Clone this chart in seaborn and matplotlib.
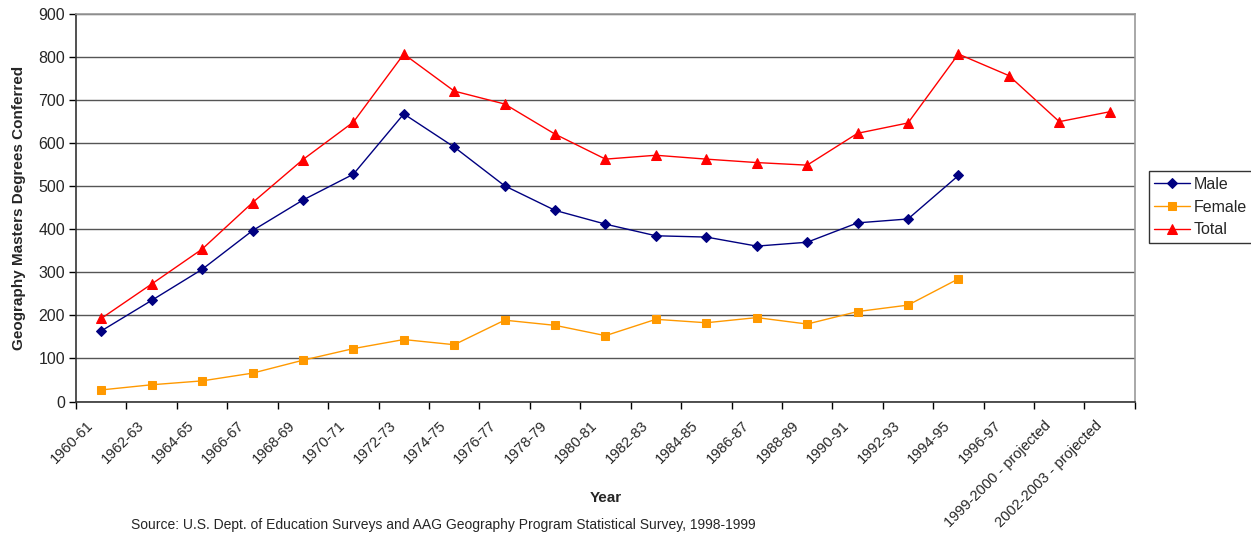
import numpy as np
import pandas as pd
import matplotlib
matplotlib.use("Agg")
import matplotlib.pyplot as plt
import seaborn as sns

years = ["1960-61", "1962-63", "1964-65", "1966-67", "1968-69", "1970-71",
         "1972-73", "1974-75", "1976-77", "1978-79", "1980-81", "1982-83",
         "1984-85", "1986-87", "1988-89", "1990-91", "1992-93", "1994-95",
         "1996-97", "1999-2000 - projected", "2002-2003 - projected"]
male = [164, 235, 307, 397, 468, 528, 668, 591, 501, 444, 412, 385,
        382, 361, 370, 415, 424, 525, np.nan, np.nan, np.nan]
female = [27, 39, 48, 66, 96, 123, 144, 132, 189, 177, 153, 191,
          183, 195, 180, 209, 224, 285, np.nan, np.nan, np.nan]
total = [193, 273, 354, 462, 562, 649, 807, 721, 691, 621, 563, 572,
         563, 555, 549, 623, 647, 807, 757, 650, 673]

sns.set_style("white")
plt.rcParams['font.family'] = ['Liberation Sans', 'DejaVu Sans']

df = pd.DataFrame({"pos": np.arange(len(years)), "Male": male,
                   "Female": female, "Total": total})

fig = plt.figure(figsize=(12.51, 5.39), dpi=100)
ax = fig.add_axes([0.0608, 0.255, 0.8464, 0.719])

series = [("Male", "#000080", "D", 5), ("Female", "#FF9900", "s", 5.5),
          ("Total", "#FF0000", "^", 7)]
for name, col, mk, ms in series:
    sns.lineplot(data=df.dropna(subset=[name]), x="pos", y=name, ax=ax,
                 color=col, marker=mk, markersize=ms, markeredgecolor=col,
                 linewidth=1.0, label=name)

ax.set_ylim(0, 900)
ax.set_yticks(range(0, 901, 100))
ax.set_xlim(-0.5, len(years) - 0.5)
# label anchors sit a little left of each category centre, like Excel does
ax.set_xticks(np.arange(len(years)) - 0.3)
ax.set_xticklabels(years, rotation=45, ha="right", va="top",
                   rotation_mode="anchor", fontsize=10.5)
ax.set_xticks(np.arange(-0.5, len(years)), minor=True)
ax.tick_params(axis="x", which="major", length=0, pad=12)
ax.tick_params(axis="x", which="minor", length=5, width=1, color="black",
               direction="out", bottom=True)
ax.tick_params(axis="y", length=5, width=1, color="black", direction="out",
               left=True, labelsize=11.5, pad=3)

ax.yaxis.grid(True, color="#555555", linewidth=1)
ax.set_axisbelow(True)
for s in ["left", "bottom"]:
    ax.spines[s].set_color("#333333")
    ax.spines[s].set_linewidth(1.2)
for s in ["top", "right"]:
    ax.spines[s].set_color("#999999")
    ax.spines[s].set_linewidth(1.2)

ax.set_xlabel("Year", fontsize=11, fontweight="bold")
ax.xaxis.set_label_coords(0.5, -0.249)
ax.xaxis.label.set_va("center")
ax.set_ylabel("Geography Masters Degrees Conferred", fontsize=11,
              fontweight="bold")
ax.yaxis.set_label_coords(-0.047, 0.5)

leg = ax.legend(loc="center left", bbox_to_anchor=(1.0132, 0.502),
                frameon=True, fancybox=False, edgecolor="black", fontsize=11.5,
                borderpad=0.35, handlelength=2.2, labelspacing=0.5,
                handletextpad=0.25, borderaxespad=0)
leg.get_frame().set_linewidth(1)

fig.text(0.105, 0.026, "Source: U.S. Dept. of Education Surveys and AAG Geography "
         "Program Statistical Survey, 1998-1999", fontsize=10, va="center")

fig.savefig("out.png", dpi=100)
